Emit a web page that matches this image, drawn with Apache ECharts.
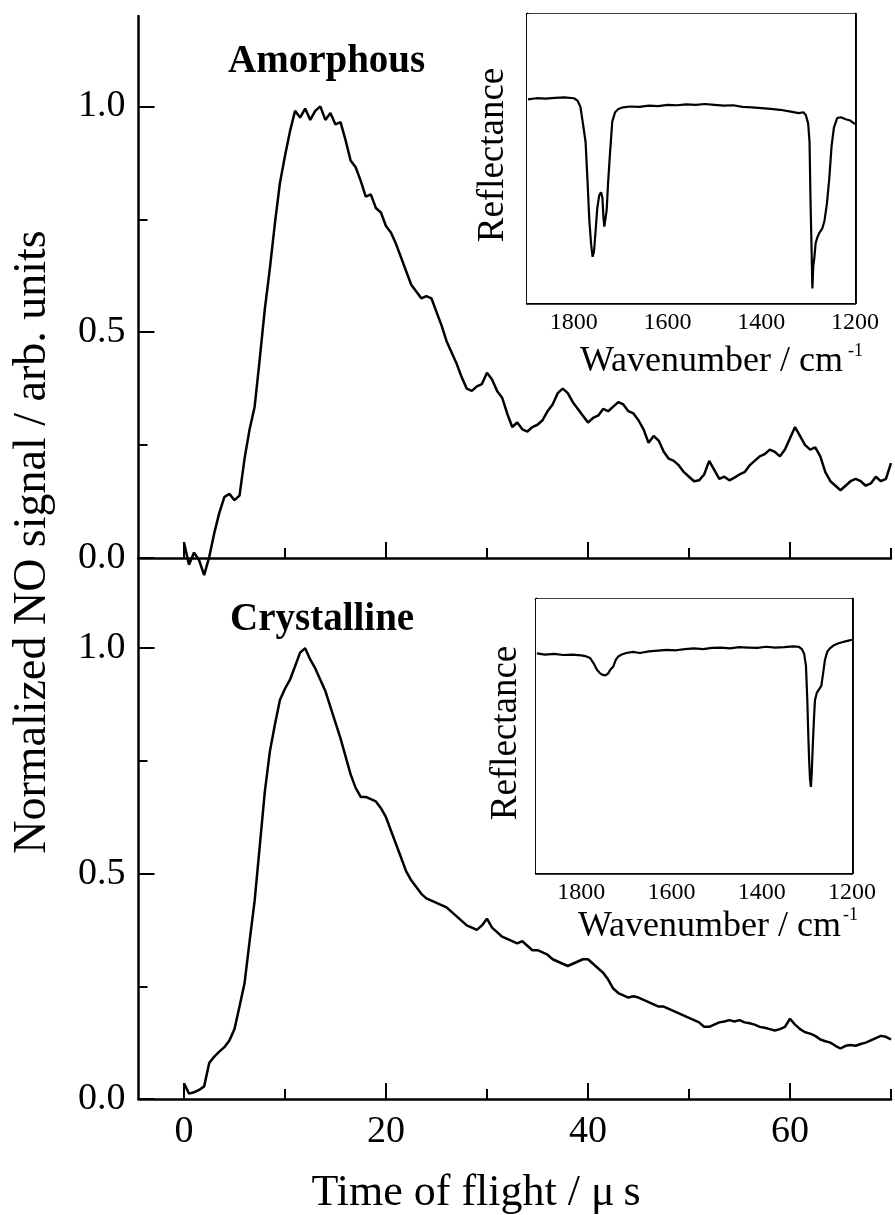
<!DOCTYPE html>
<html>
<head>
<meta charset="utf-8">
<script src="https://cdn.jsdelivr.net/npm/echarts@6/dist/echarts.min.js"></script>
<style>
html,body{margin:0;padding:0;background:#fff;}
#chart{width:895px;height:1215px;}
</style>
</head>
<body>
<div id="chart"></div>
<script>
// ---- Time-of-flight data (µs) ----
const timeUs = [0,0.5,1,1.5,2,2.5,3,3.5,4,4.5,5,5.5,6,6.5,7,7.5,8,8.5,9,9.5,10,10.5,11,11.5,12,12.5,13,13.5,14,14.5,15,15.5,16,16.5,17,17.5,18,18.5,19,19.5,20,20.5,21,21.5,22,22.5,23,23.5,24,24.5,25,25.5,26,26.5,27,27.5,28,28.5,29,29.5,30,30.5,31,31.5,32,32.5,33,33.5,34,34.5,35,35.5,36,36.5,37,37.5,38,38.5,39,39.5,40,40.5,41,41.5,42,42.5,43,43.5,44,44.5,45,45.5,46,46.5,47,47.5,48,48.5,49,49.5,50,50.5,51,51.5,52,52.5,53,53.5,54,54.5,55,55.5,56,56.5,57,57.5,58,58.5,59,59.5,60,60.5,61,61.5,62,62.5,63,63.5,64,64.5,65,65.5,66,66.5,67,67.5,68,68.5,69,69.5,70];

const amorphousSignal = [0.035,-0.015,0.012,-0.005,-0.038,0.002,0.055,0.10,0.135,0.142,0.128,0.138,0.22,0.285,0.335,0.44,0.55,0.64,0.74,0.83,0.89,0.945,0.99,0.975,0.995,0.97,0.99,1.0,0.97,0.985,0.96,0.965,0.925,0.88,0.865,0.835,0.80,0.805,0.775,0.765,0.735,0.72,0.695,0.665,0.635,0.605,0.59,0.575,0.58,0.575,0.545,0.515,0.48,0.455,0.43,0.40,0.375,0.37,0.38,0.385,0.41,0.395,0.37,0.355,0.32,0.29,0.30,0.285,0.28,0.29,0.295,0.305,0.325,0.34,0.365,0.375,0.365,0.345,0.33,0.315,0.30,0.31,0.315,0.33,0.325,0.335,0.345,0.34,0.325,0.32,0.305,0.285,0.255,0.27,0.26,0.235,0.22,0.215,0.205,0.19,0.18,0.17,0.172,0.185,0.215,0.195,0.175,0.18,0.172,0.178,0.185,0.19,0.205,0.215,0.225,0.23,0.24,0.235,0.225,0.24,0.265,0.29,0.27,0.25,0.24,0.245,0.225,0.19,0.17,0.16,0.15,0.16,0.17,0.175,0.17,0.16,0.165,0.18,0.17,0.175,0.21];

const crystallineSignal = [0.035,0.012,0.015,0.02,0.028,0.08,0.094,0.105,0.115,0.13,0.155,0.205,0.257,0.35,0.44,0.56,0.68,0.77,0.83,0.885,0.91,0.93,0.96,0.99,1.0,0.975,0.955,0.93,0.905,0.87,0.835,0.80,0.76,0.72,0.69,0.67,0.67,0.665,0.66,0.645,0.625,0.595,0.565,0.535,0.505,0.485,0.47,0.455,0.445,0.44,0.435,0.43,0.425,0.415,0.405,0.395,0.385,0.38,0.375,0.385,0.40,0.38,0.37,0.36,0.355,0.35,0.345,0.35,0.34,0.33,0.33,0.325,0.32,0.31,0.305,0.30,0.295,0.30,0.305,0.31,0.31,0.30,0.29,0.28,0.265,0.245,0.235,0.23,0.225,0.228,0.225,0.22,0.215,0.21,0.205,0.205,0.2,0.195,0.19,0.185,0.18,0.175,0.17,0.16,0.16,0.165,0.17,0.172,0.175,0.172,0.175,0.17,0.168,0.165,0.16,0.158,0.155,0.152,0.155,0.16,0.178,0.165,0.155,0.148,0.145,0.14,0.132,0.128,0.125,0.118,0.112,0.118,0.12,0.118,0.122,0.125,0.13,0.135,0.14,0.138,0.132];

// ---- IR reflectance insets (wavenumber cm^-1, arbitrary units) ----
const amorphousWavenumber = [1898,1880,1860,1840,1820,1800,1792,1786,1780,1775,1771,1767,1763,1760,1757,1754,1750,1746,1742,1739,1737,1735,1733,1730,1727,1723,1718,1712,1705,1695,1680,1660,1640,1620,1600,1580,1560,1540,1520,1500,1480,1460,1440,1420,1400,1380,1360,1340,1320,1310,1305,1300,1297,1295,1293,1291,1289,1287,1284,1280,1276,1270,1265,1260,1255,1250,1245,1238,1230,1220,1210,1200];
const amorphousReflectance = [4.93,4.96,4.95,4.97,4.98,4.96,4.9,4.75,4.3,3.9,3.0,2.0,1.4,1.12,1.25,1.69,2.3,2.6,2.68,2.55,2.1,1.85,2.0,2.25,2.9,3.6,4.4,4.62,4.7,4.74,4.76,4.75,4.78,4.77,4.8,4.79,4.81,4.8,4.82,4.8,4.78,4.79,4.75,4.74,4.72,4.7,4.68,4.64,4.6,4.62,4.55,4.35,3.9,2.5,1.48,0.35,0.9,1.07,1.45,1.6,1.7,1.8,2.0,2.4,3.0,3.8,4.25,4.48,4.5,4.45,4.42,4.33];

const crystallineWavenumber = [1898,1880,1860,1840,1820,1800,1790,1780,1772,1765,1758,1752,1746,1740,1735,1729,1723,1718,1710,1700,1685,1670,1650,1630,1610,1590,1570,1550,1530,1510,1490,1470,1450,1430,1410,1390,1370,1350,1330,1318,1311,1306,1302,1299,1297,1295,1293,1291,1289,1287,1284,1282,1278,1274,1268,1264,1260,1255,1249,1240,1230,1220,1210,1200];
const crystallineReflectance = [5.61,5.58,5.6,5.57,5.58,5.56,5.54,5.49,5.35,5.19,5.1,5.06,5.05,5.1,5.2,5.27,5.45,5.53,5.58,5.62,5.65,5.62,5.66,5.68,5.7,5.69,5.72,5.74,5.72,5.75,5.76,5.74,5.77,5.76,5.75,5.78,5.76,5.77,5.79,5.78,5.72,5.6,5.3,4.42,3.6,2.89,2.4,2.2,2.6,3.23,4.0,4.42,4.6,4.65,4.78,5.1,5.44,5.65,5.74,5.82,5.87,5.9,5.93,5.96];

// ---- tick labels ----
const timeMajorTicks = [0,20,40,60];
const timeMinorTicks = [10,30,50,70];
const signalMajorTicks = [0,0.5,1.0];
const signalMinorTicks = [0.25,0.75];
const wnLabelTicks = [1800,1600,1400,1200];
const wnMajorTicks = [1800,1600,1400];
const wnMinorTicks = [1700,1500,1300];
const wnTopTicks = [1800,1700,1600,1500,1400,1300];
const reflMajorTicks = [2,4,6];
const reflMinorTicks = [1,3,5];

const FONT = "'Liberation Serif', 'DejaVu Serif', serif";
const BLACK = '#000';

function zip(a, b) { return a.map((v, i) => [v, b[i]]); }

const chart = echarts.init(document.getElementById('chart'), null, {renderer: 'canvas'});

function tAxis(grid, ticks, len, opts) {
  return Object.assign({
    type: 'value', gridIndex: grid, min: -4.5, max: 70, position: 'bottom',
    axisLine: {show: true, onZero: false, lineStyle: {color: BLACK, width: 2.5}},
    axisTick: {show: true, inside: true, length: len, customValues: ticks, lineStyle: {color: BLACK, width: 2}},
    axisLabel: {show: false}, splitLine: {show: false}
  }, opts || {});
}
function sAxis(grid, ticks, len, opts) {
  return Object.assign({
    type: 'value', gridIndex: grid, min: 0, max: 1.2, position: 'left',
    axisLine: {show: true, onZero: false, lineStyle: {color: BLACK, width: 2.5}},
    axisTick: {show: true, inside: true, length: len, customValues: ticks, lineStyle: {color: BLACK, width: 2}},
    axisLabel: {show: false}, splitLine: {show: false}
  }, opts || {});
}
function wAxis(grid, pos, ticks, len, opts) {
  return Object.assign({
    type: 'value', gridIndex: grid, min: 1200, max: 1900, inverse: true, position: pos,
    axisLine: {show: true, onZero: false, lineStyle: {color: BLACK, width: 2.5}},
    axisTick: {show: true, inside: true, length: len, customValues: ticks, lineStyle: {color: BLACK, width: 2}},
    axisLabel: {show: false}, splitLine: {show: false}
  }, opts || {});
}
function rAxis(grid, pos, ticks, len) {
  return {
    type: 'value', gridIndex: grid, min: 0, max: 7, position: pos,
    axisLine: {show: true, onZero: false, lineStyle: {color: BLACK, width: 2.5}},
    axisTick: {show: true, inside: true, length: len, customValues: ticks, lineStyle: {color: BLACK, width: 2}},
    axisLabel: {show: false}, splitLine: {show: false}
  };
}
const mainLabel = {show: true, customValues: timeMajorTicks, fontFamily: FONT, fontSize: 38, color: BLACK, margin: 14,
  formatter: v => String(v)};
const sigLabel = {show: true, customValues: signalMajorTicks, fontFamily: FONT, fontSize: 38, color: BLACK, margin: 13,
  formatter: v => Number(v).toFixed(1)};
const wnLabel = {show: true, customValues: wnLabelTicks, fontFamily: FONT, fontSize: 24, color: BLACK, margin: 8,
  formatter: v => String(v)};

const option = {
  backgroundColor: '#fff',
  animation: false,
  grid: [
    {left: 138.5, top: 16, width: 752.5, height: 542},
    {left: 138.5, top: 558, width: 752.5, height: 541},
    {left: 527, top: 14, width: 328, height: 289, show: true, backgroundColor: '#fff', borderWidth: 0, z: 5},
    {left: 536, top: 599, width: 316, height: 274, show: true, backgroundColor: '#fff', borderWidth: 0, z: 5}
  ],
  xAxis: [
    tAxis(0, timeMajorTicks, 16),
    tAxis(0, timeMinorTicks, 10, {axisLine: {show: false, onZero: false}}),
    tAxis(1, timeMajorTicks, 16, {axisLabel: mainLabel}),
    tAxis(1, timeMinorTicks, 10, {axisLine: {show: false, onZero: false}}),
    wAxis(2, 'bottom', wnMajorTicks, 8, {axisLabel: wnLabel}),
    wAxis(2, 'bottom', wnMinorTicks, 5, {axisLine: {show: false, onZero: false}}),
    wAxis(2, 'top', wnTopTicks, 6),
    wAxis(3, 'bottom', wnMajorTicks, 8, {axisLabel: wnLabel}),
    wAxis(3, 'bottom', wnMinorTicks, 5, {axisLine: {show: false, onZero: false}}),
    wAxis(3, 'top', wnTopTicks, 6)
  ],
  yAxis: [
    sAxis(0, signalMajorTicks, 16, {axisLabel: sigLabel}),
    sAxis(0, signalMinorTicks, 9, {axisLine: {show: false, onZero: false}}),
    sAxis(1, signalMajorTicks, 16, {axisLabel: sigLabel}),
    sAxis(1, signalMinorTicks, 9, {axisLine: {show: false, onZero: false}}),
    rAxis(2, 'left', reflMajorTicks, 8),
    rAxis(2, 'left', reflMinorTicks, 5),
    rAxis(2, 'right', reflMajorTicks, 8),
    rAxis(2, 'right', reflMinorTicks, 5),
    rAxis(3, 'left', reflMajorTicks, 8),
    rAxis(3, 'left', reflMinorTicks, 5),
    rAxis(3, 'right', reflMajorTicks, 8),
    rAxis(3, 'right', reflMinorTicks, 5)
  ],
  series: [
    {type: 'line', name: 'Amorphous', xAxisIndex: 0, yAxisIndex: 0, data: zip(timeUs, amorphousSignal),
      showSymbol: false, clip: false, lineStyle: {color: BLACK, width: 2.5}, z: 3},
    {type: 'line', name: 'Crystalline', xAxisIndex: 2, yAxisIndex: 2, data: zip(timeUs, crystallineSignal),
      showSymbol: false, clip: false, lineStyle: {color: BLACK, width: 2.5}, z: 3},
    {type: 'line', name: 'Amorphous IR', xAxisIndex: 4, yAxisIndex: 4, data: zip(amorphousWavenumber, amorphousReflectance),
      showSymbol: false, lineStyle: {color: BLACK, width: 2.2}, z: 6},
    {type: 'line', name: 'Crystalline IR', xAxisIndex: 7, yAxisIndex: 8, data: zip(crystallineWavenumber, crystallineReflectance),
      showSymbol: false, lineStyle: {color: BLACK, width: 2.2}, z: 6}
  ],
  graphic: [
    {type: 'text', x: 33, y: 542, rotation: Math.PI / 2,
      style: {text: 'Normalized NO signal / arb. units', font: '46px ' + FONT, fill: BLACK, textAlign: 'center', textVerticalAlign: 'middle'}},
    {type: 'text', x: 476, y: 1193,
      style: {text: 'Time of flight / \u03bc\u2009s', font: '44px ' + FONT, fill: BLACK, textAlign: 'center', textVerticalAlign: 'middle'}},
    {type: 'text', x: 228, y: 62,
      style: {text: 'Amorphous', font: 'bold 39px ' + FONT, fill: BLACK, textAlign: 'left', textVerticalAlign: 'middle'}},
    {type: 'text', x: 230, y: 620,
      style: {text: 'Crystalline', font: 'bold 39px ' + FONT, fill: BLACK, textAlign: 'left', textVerticalAlign: 'middle'}},
    {type: 'text', x: 493, y: 155, rotation: Math.PI / 2,
      style: {text: 'Reflectance', font: '37px ' + FONT, fill: BLACK, textAlign: 'center', textVerticalAlign: 'middle'}},
    {type: 'text', x: 506, y: 733, rotation: Math.PI / 2,
      style: {text: 'Reflectance', font: '37px ' + FONT, fill: BLACK, textAlign: 'center', textVerticalAlign: 'middle'}},
    {type: 'text', x: 580, y: 362,
      style: {text: 'Wavenumber / cm', font: '36px ' + FONT, fill: BLACK, textAlign: 'left', textVerticalAlign: 'middle'}},
    {type: 'text', x: 848, y: 351,
      style: {text: '-1', font: '18px ' + FONT, fill: BLACK, textAlign: 'left', textVerticalAlign: 'middle'}},
    {type: 'text', x: 578, y: 927,
      style: {text: 'Wavenumber / cm', font: '36px ' + FONT, fill: BLACK, textAlign: 'left', textVerticalAlign: 'middle'}},
    {type: 'text', x: 843, y: 915,
      style: {text: '-1', font: '18px ' + FONT, fill: BLACK, textAlign: 'left', textVerticalAlign: 'middle'}}
  ]
};
chart.setOption(option);
</script>
</body>
</html>
